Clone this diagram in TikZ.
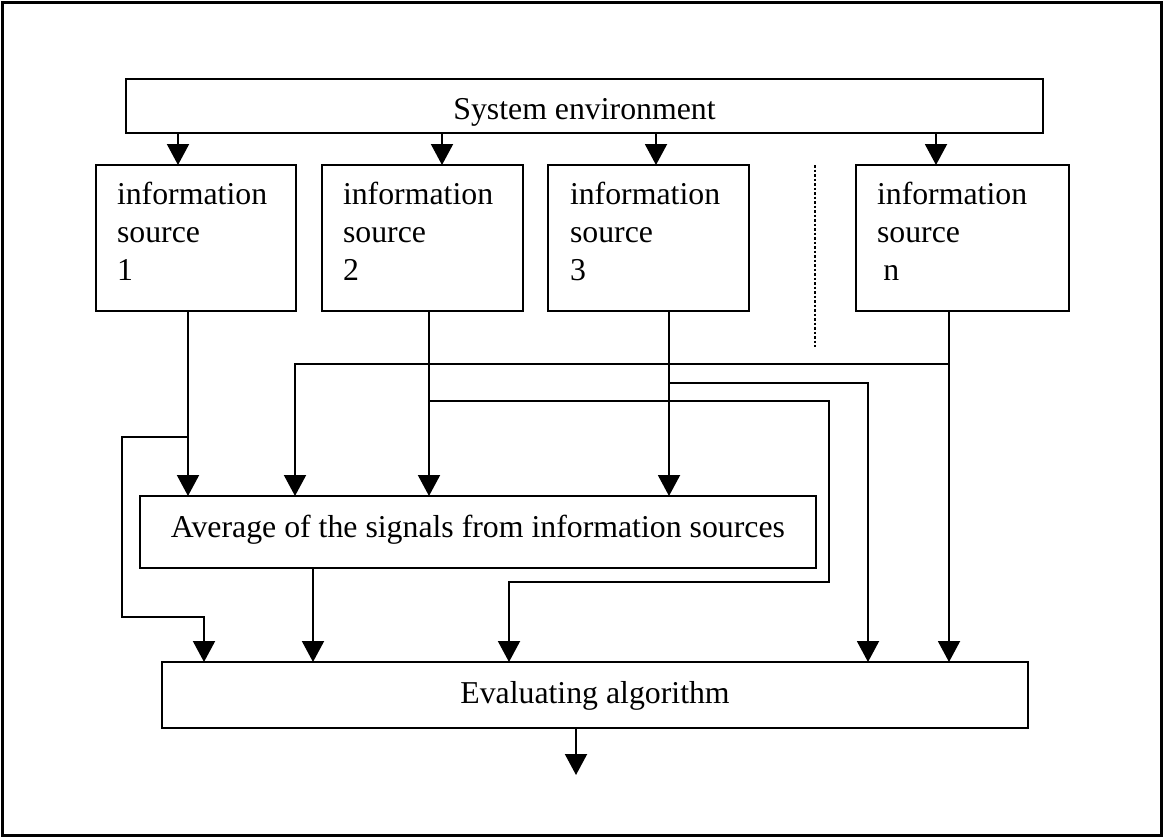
\documentclass[tikz,border=0pt]{standalone}
\usepackage{fontspec}
\setmainfont{Liberation Serif}
\usetikzlibrary{arrows.meta,calc}
\begin{document}
\begin{tikzpicture}[x=1pt,y=-1pt,
  every node/.style={font=\fontsize{31.8}{38}\selectfont},
  box/.style={draw, line width=2pt, rectangle, inner sep=0pt, outer sep=0pt, anchor=north west},
  srctext/.style={anchor=base west, inner sep=0pt, outer sep=0pt},
  wire/.style={line width=2pt},
  arr/.style={wire, -{Triangle[width=22pt,length=21pt]}},
  dots/.style={line width=2.5pt, dash pattern=on 2.5pt off 2pt}
]
\useasboundingbox (0,0) rectangle (1164,838);
\fill[white] (0,0) rectangle (1164,838);
\draw[line width=2.5pt] (2.3,2.3) rectangle (1161.7,835.7);

% boxes
\node[box, minimum width=917pt, minimum height=54pt, text height=26pt, text depth=0pt] (sys) at (126,79) {System environment};

\node[box, minimum width=200pt, minimum height=146pt] (s1) at (96,165) {};
\node[box, minimum width=201pt, minimum height=146pt] (s2) at (322,165) {};
\node[box, minimum width=201pt, minimum height=146pt] (s3) at (548,165) {};
\node[box, minimum width=213pt, minimum height=146pt] (sn) at (856,165) {};

\node[srctext] (t1) at (117,204) {\parbox[t]{170pt}{\raggedright information\\source\\1}};
\node[srctext] (t2) at (343,204) {\parbox[t]{170pt}{\raggedright information\\source\\2}};
\node[srctext] (t3) at (570,204) {\parbox[t]{170pt}{\raggedright information\\source\\3}};
\node[srctext] (tn) at (877,204) {\parbox[t]{170pt}{\raggedright information\\source\\\hspace*{0.2em}n}};

\node[box, minimum width=676pt, minimum height=72pt, text height=20pt, text depth=10pt] (avg) at (140,496) {Average of the signals from information sources};
\node[box, minimum width=866pt, minimum height=66pt, text height=22pt, text depth=6pt] (eval) at (162,662) {Evaluating algorithm};

% dotted separator
\draw[dots] (815,165) -- (815,347);

% system environment to sources
\foreach \x/\n in {178/s1,442/s2,656/s3,936/sn}
  \draw[arr] (sys.south -| \x,0) -- (\n.north -| \x,0);

% junctions
\coordinate (j1) at (188,437);
\coordinate (j2) at (429,401);
\coordinate (j3) at (669,383);
\coordinate (jn) at (949,364);
\coordinate (out) at (576,775);

% source 1
\draw[arr] (s1.south -| j1) -- (avg.north -| j1);
\draw[arr] (j1) -| (122,617) -| (eval.north -| 204,0);
% source 2
\draw[arr] (s2.south -| j2) -- (avg.north -| j2);
\draw[arr] (j2) -| (829,582) -| (eval.north -| 509,0);
% source 3
\draw[arr] (s3.south -| j3) -- (avg.north -| j3);
\draw[arr] (j3) -| (eval.north -| 868,0);
% source n
\draw[arr] (sn.south -| jn) -- (eval.north -| jn);
\draw[arr] (jn) -| (avg.north -| 295,0);
% average to evaluation
\draw[arr] (avg.south -| 313,0) -- (eval.north -| 313,0);
% output
\draw[arr] (eval.south -| out) -- (out);
\end{tikzpicture}
\end{document}
